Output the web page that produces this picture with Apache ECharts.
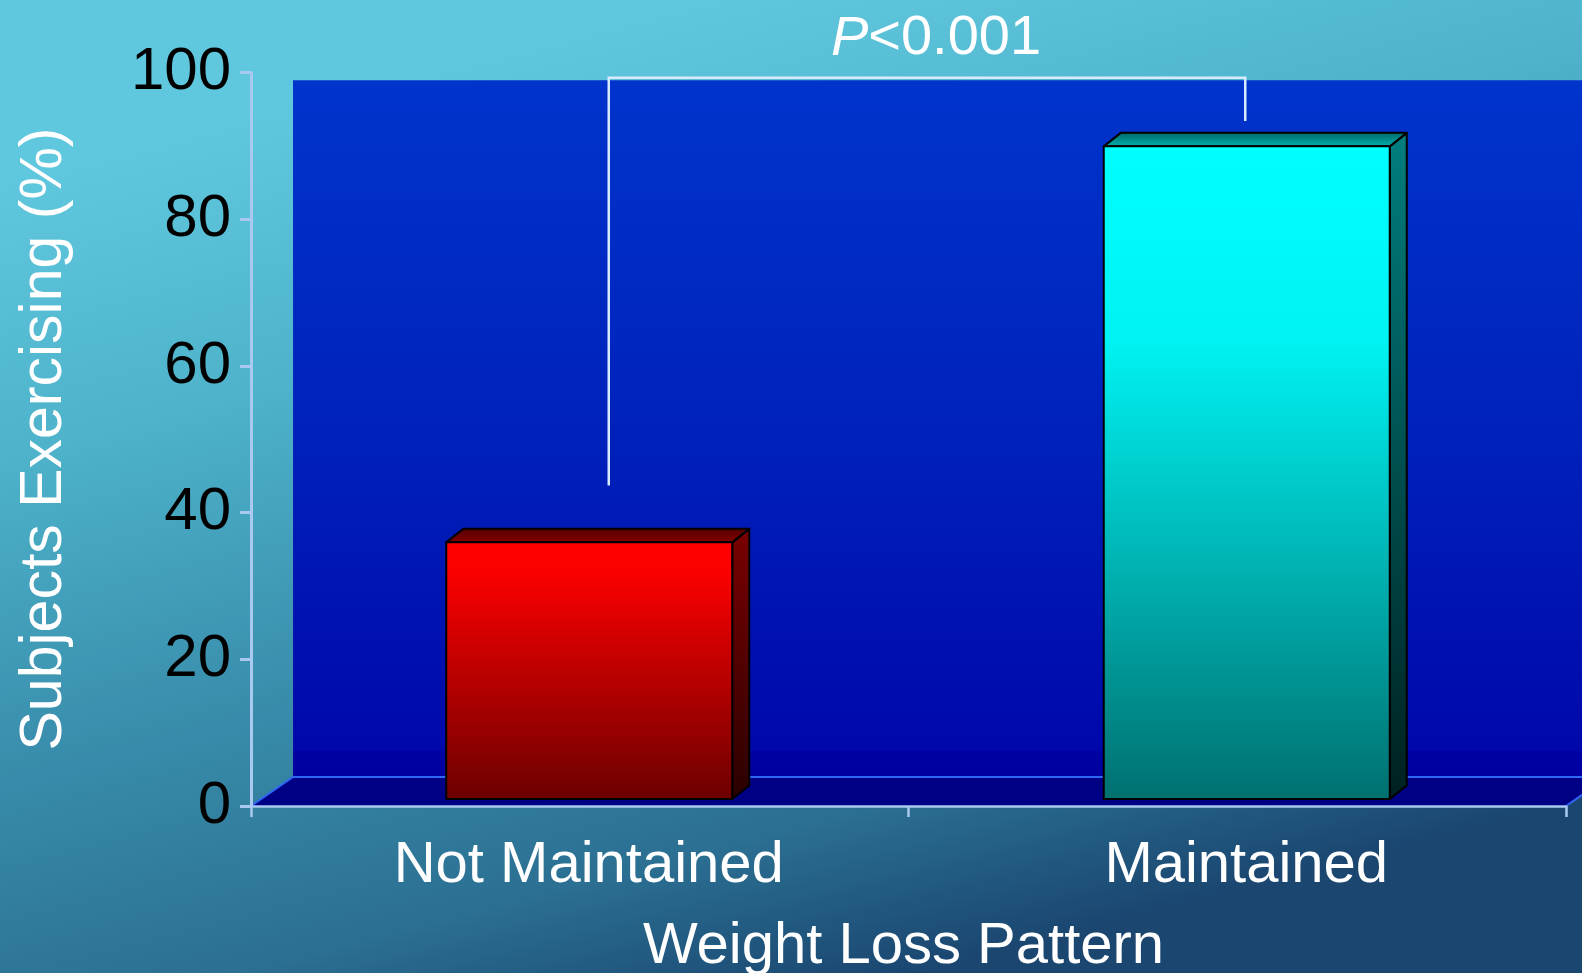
<!DOCTYPE html>
<html>
<head>
<meta charset="utf-8">
<title>Subjects Exercising by Weight Loss Pattern</title>
<script src="https://cdn.jsdelivr.net/npm/echarts@6/dist/echarts.min.js"></script>
<style>
  html, body { margin: 0; padding: 0; background: #1a4670; }
  #chart { width: 1582px; height: 973px; }
</style>
</head>
<body>
<div id="chart"></div>
<script>
// ---- data ----
const categories = ['Not Maintained', 'Maintained'];
const exercisingPct = [35, 89];
const yTicks = { min: 0, max: 100, interval: 20 };
const pLabel = 'P<0.001';
// bracket drop ends (value units) for the left and right bar, and the bracket bar level
const bracketEnds = [43.7, 93.4];
const bracketTop = 99.3;
// back wall height (value units on the back plane)
const wallTopValue = 95;

// ---- styling ----
const FONT = "'Liberation Sans', Arial, sans-serif";
const AXIS_COLOR = '#a9c9f0';
const FLOOR_DEPTH = [42, -29];   // offset of the back wall from the axis plane
const BAR_SHIFT = [9.5, -7];     // bars stand a little into the floor
const BAR_DEPTH = [17, -13.5];
const BAR_WIDTH_FRAC = 0.435;

function lin(stops) {
  return { type: 'linear', x: 0, y: 0, x2: 0, y2: 1,
    colorStops: stops.map(s => ({ offset: s[0], color: s[1] })) };
}
const barPalette = [
  {
    front: lin([[0, '#ff0000'], [0.12, '#fb0000'], [1, '#6c0000']]),
    top: lin([[0, '#4e0000'], [1, '#8c0000']]),
    side: lin([[0, '#7a0000'], [1, '#2a0000']])
  },
  {
    front: lin([[0, '#00ffff'], [0.3, '#00f2f2'], [1, '#007070']]),
    top: lin([[0, '#006464'], [1, '#00b4b4']]),
    side: lin([[0, '#007e7e'], [1, '#002020']])
  }
];

const chart = echarts.init(document.getElementById('chart'), null, { renderer: 'canvas' });

function renderBackdrop(params, api) {
  const cs = params.coordSys;
  const yB = api.coord([0, 0])[1];
  const x0 = cs.x, x1 = cs.x + cs.width;
  const dx = FLOOR_DEPTH[0], dy = FLOOR_DEPTH[1];
  const wallTop = api.coord([0, wallTopValue])[1] + dy;
  const right = api.getWidth() + 10;
  return {
    type: 'group',
    children: [
      { type: 'rect', shape: { x: x0 + dx, y: wallTop, width: right - (x0 + dx), height: yB + dy - wallTop },
        style: { fill: lin([[0, '#0034cc'], [0.5, '#0022bb'], [0.963, '#0008aa'], [0.963, '#0002a2'], [1, '#0000a0']]) } },
      { type: 'polygon', shape: { points: [[x0, yB], [x1, yB], [x1 + dx, yB + dy], [x0 + dx, yB + dy]] },
        style: { fill: '#000084' } },
      { type: 'polyline', shape: { points: [[x0, yB], [x0 + dx, yB + dy], [right, yB + dy]] },
        style: { stroke: '#2f68f4', lineWidth: 2, fill: null } },
      { type: 'line', shape: { x1: x1, y1: yB, x2: x1 + dx, y2: yB + dy },
        style: { stroke: '#2f68f4', lineWidth: 2 } }
    ]
  };
}

function renderBar(params, api) {
  const i = api.value(0);
  const v = api.value(1);
  const base = api.coord([i, 0]);
  const topPt = api.coord([i, v]);
  const w = api.size([1, 0])[0] * BAR_WIDTH_FRAC;
  const L = base[0] - w / 2 + BAR_SHIFT[0];
  const R = L + w;
  const B = base[1] + BAR_SHIFT[1];
  const T = topPt[1] + BAR_SHIFT[1];
  const dx = BAR_DEPTH[0], dy = BAR_DEPTH[1];
  const pal = barPalette[params.dataIndex];
  const edge = { stroke: '#000', lineWidth: 2, lineJoin: 'round' };
  return {
    type: 'group',
    children: [
      { type: 'polygon', shape: { points: [[R, T], [R + dx, T + dy], [R + dx, B + dy], [R, B]] },
        style: Object.assign({ fill: pal.side }, edge) },
      { type: 'polygon', shape: { points: [[L, T], [R, T], [R + dx, T + dy], [L + dx, T + dy]] },
        style: Object.assign({ fill: pal.top }, edge) },
      { type: 'rect', shape: { x: L, y: T, width: w, height: B - T },
        style: Object.assign({ fill: pal.front }, edge) }
    ]
  };
}

function renderBracket(params, api) {
  const leftX = api.coord([0, 0])[0] + 29;
  const rightX = api.coord([1, 0])[0] + 8;
  const yTop = api.coord([0, bracketTop])[1];
  const yL = api.coord([0, bracketEnds[0]])[1];
  const yR = api.coord([1, bracketEnds[1]])[1];
  return {
    type: 'polyline',
    shape: { points: [[leftX, yL], [leftX, yTop], [rightX, yTop], [rightX, yR]] },
    style: { stroke: '#d6ebff', lineWidth: 2.5, fill: null }
  };
}

const option = {
  animation: false,
  backgroundColor: {
    type: 'linear', x: 0.42, y: 0, x2: 0.58, y2: 1,
    colorStops: [
      { offset: 0, color: '#60c8de' },
      { offset: 0.28, color: '#4db2ca' },
      { offset: 0.55, color: '#3a90ae' },
      { offset: 0.83, color: '#2b6f92' },
      { offset: 1, color: '#1a4670' }
    ]
  },
  grid: { left: 251, right: 16, top: 72.7, bottom: 167, containLabel: false, outerBoundsMode: 'none' },
  xAxis: {
    type: 'category',
    data: categories,
    boundaryGap: true,
    axisLine: { show: true, lineStyle: { color: AXIS_COLOR, width: 2.5 } },
    axisTick: { show: true, length: 11, lineStyle: { color: AXIS_COLOR, width: 2.5 } },
    axisLabel: { color: '#ffffff', fontFamily: FONT, fontSize: 58, margin: 31, padding: [0, 0, 0, 18] },
    name: 'Weight Loss Pattern',
    nameLocation: 'middle',
    nameGap: 112,
    nameTextStyle: { color: '#ffffff', fontFamily: FONT, fontSize: 58, padding: [0, 10, 0, 0] },
    splitLine: { show: false },
    z: 5
  },
  yAxis: {
    type: 'value',
    min: yTicks.min,
    max: yTicks.max,
    interval: yTicks.interval,
    axisLine: { show: true, lineStyle: { color: AXIS_COLOR, width: 3 } },
    axisTick: { show: true, length: 11, lineStyle: { color: AXIS_COLOR, width: 3 } },
    axisLabel: { color: '#000000', fontFamily: FONT, fontSize: 60, margin: 20, padding: [4, 0, 0, 0] },
    splitLine: { show: false },
    z: 5
  },
  graphic: [
    {
      type: 'text',
      x: 45, y: 439,
      rotation: Math.PI / 2,
      style: {
        text: 'Subjects Exercising (%)',
        fill: '#ffffff',
        font: '59px ' + FONT,
        align: 'center',
        verticalAlign: 'middle'
      }
    },
    {
      type: 'text',
      x: 936, y: 39,
      style: {
        text: '{i|P}<0.001',
        fill: '#ffffff',
        font: '56px ' + FONT,
        align: 'center',
        verticalAlign: 'middle',
        rich: { i: { fontStyle: 'italic', fontSize: 56, fontFamily: FONT, fill: '#ffffff' } }
      }
    }
  ],
  series: [
    { type: 'custom', name: 'backdrop', renderItem: renderBackdrop, data: [[0, 0]], z: 1, silent: true, clip: false },
    { type: 'custom', name: 'Subjects exercising', renderItem: renderBar,
      data: exercisingPct.map((v, i) => [i, v]), z: 3, clip: false },
    { type: 'custom', name: 'bracket', renderItem: renderBracket, data: [[0, bracketTop]], z: 4, silent: true, clip: false }
  ]
};

chart.setOption(option);
</script>
</body>
</html>
